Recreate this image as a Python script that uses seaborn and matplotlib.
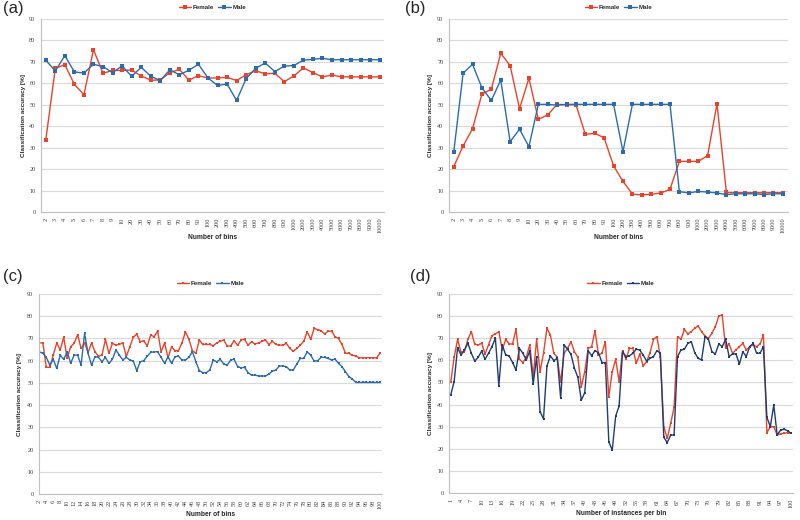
import numpy as np
import pandas as pd
import seaborn as sns
import matplotlib.pyplot as plt

# categorias do eixo x
bins_ab = ['2', '3', '4', '5', '6', '7', '8', '9', '10', '20', '30', '40', '50', '60',
           '70', '80', '90', '100', '200', '300', '400', '500', '600', '700', '800',
           '900', '1000', '2000', '3000', '4000', '5000', '6000', '7000', '8000',
           '9000', '10000']
bins_c = [str(b) for b in range(2, 101)]
inst_d = [str(b) for b in range(1, 101)]

# (a)
a_female = [33.5, 67, 68.7, 59.5, 54.7, 75.7, 64.7, 66, 66, 66.2, 63.4, 61.5, 61.5, 65,
            66.5, 61.5, 63.6, 62.5, 62.5, 62.8, 61.3, 64, 65.9, 64.4, 64.7, 60.8, 63.4,
            67.2, 65, 63, 63.9, 63, 63, 63, 63, 63]
a_male = [70.8, 65.8, 72.9, 65.3, 64.8, 68.9, 67.8, 65, 68.1, 63.3, 67.5, 63.3, 61.3,
          66.3, 64, 66.1, 68.9, 62.5, 59, 59.7, 52, 62.2, 67, 69.5, 65.5, 68, 68.3,
          70.8, 71.2, 71.7, 71, 71, 71, 71, 71, 71]

# (b)
b_female = [21.1, 30.8, 38.8, 55, 57.2, 74, 68.3, 48.2, 62.4, 43.2, 45.3, 50.2, 50, 50,
            36.2, 36.7, 34.6, 21.5, 14.3, 8.4, 7.9, 8.3, 8.8, 10.6, 23.6, 23.6, 23.6,
            26.3, 50.5, 9.1, 9, 9, 9, 9, 9, 9]
b_male = [27.8, 64.7, 68.9, 57.9, 52, 61.6, 32.8, 38.6, 30.5, 50.2, 50.2, 49.8, 50.2,
          50.2, 50.2, 50.2, 50.2, 50.2, 28.1, 50.2, 50.2, 50.2, 50.2, 50.2, 9.5, 8.9,
          9.6, 9.3, 8.9, 8.1, 8.5, 8.5, 8.5, 8.1, 8.5, 8.5]

# (c)
c_female = [68, 68, 57, 57, 62.5, 68, 64.8, 70.5, 61, 66.3,
            67.8, 71.7, 65.5, 68, 63.6, 68, 64, 62, 62.5, 69.6,
            63.3, 67.8, 67, 67.3, 68, 61.8, 66.3, 70.5, 72, 68.5,
            69, 66.6, 71.5, 70.8, 73.3, 64, 68, 61.3, 66.3, 64.5,
            64.5, 68, 73, 69.6, 64.5, 63.3, 69.3, 67.3, 67.3,
            67.3, 66.7, 68, 68.7, 69.3, 66.6, 66.6, 69, 66.9, 69.3,
            69.6, 67, 68.5, 67.5, 68, 68.7, 69.3, 67.2, 68.7, 67.3,
            67, 67, 67.8, 65.5, 64.3, 65.5, 67, 68.7, 73, 69.6,
            74.5, 74, 73.5, 72, 73.3, 73.3, 70.8, 70, 67.3, 63.3,
            63.3, 62.5, 62, 61.3, 61.3, 61.3, 61.3, 61.3, 61.3, 63.6]
c_male = [64, 63.3, 61.5, 58, 60.6, 56.5, 62.5, 60.6, 64, 58.8,
          62.5, 62.5, 58, 72.3, 63.3, 58, 61.8, 61.5, 59.5, 61.5,
          58.8, 60.6, 64.8, 62.5, 60.3, 61.5, 60.3, 59.8, 55.5, 59.5,
          60, 62, 63.7, 64, 64, 61.5, 58.8, 61.8, 58.8, 61.8,
          62, 60.3, 60.3, 61.5, 64, 59.5, 55.5, 54.6, 54.6,
          55.8, 60.3, 59.5, 60.6, 58.5, 58, 60.3, 60.6, 57.3, 56.8,
          57, 54.6, 53.5, 53.5, 53.1, 53.1, 53.1, 54, 55.3, 55.8,
          57.6, 57.6, 57.3, 55.8, 55.8, 58.5, 61, 61, 64, 62.5,
          59.8, 60, 61.5, 61.5, 61, 60.3, 60.7, 58.8, 57.3, 55,
          52.8, 51.7, 50.2, 50.2, 50.2, 50.2, 50.2, 50.2, 50.2, 50.2]

# (d)
d_female = [50, 61.4, 69.5, 63.6, 63.9, 69.5, 73, 67.2, 67, 67.7,
            62.9, 67, 71.2, 71.9, 73, 64.7, 69.5, 67.4, 67.4, 74,
            60.5, 59, 61.4, 67, 52.6, 69.5, 54.9, 63.2, 74.5, 71.5,
            63.2, 61.4, 50, 63.2, 65.4, 68.4, 63.9, 61.4, 48, 54.9,
            65.4, 66.2, 73.4, 62.4, 63.2, 68.4, 43.6, 54.9, 60.5, 50.4,
            64.4, 60.5, 65.4, 65.4, 58.6, 62.9, 57.4, 59.4, 63.5, 69.5,
            70.7, 61.4, 30, 24.7, 31.5, 38.7, 70.7, 69.5, 74, 71.9,
            73, 74.5, 75.5, 73, 71, 70, 72.2, 75.2, 80, 80.5,
            65.4, 67.4, 63.2, 64.7, 66.2, 67.7, 64.7, 66.2, 67, 66.2,
            67.4, 71.5, 27.3, 30, 30, 26.2, 26.8, 27, 27.3, 27]
d_male = [44.3, 50.4, 65.7, 62.4, 64.7, 67.7, 63.2, 59.7, 61.4, 64.2,
          60.5, 63.2, 66.2, 70, 48.5, 67, 62.4, 62, 59, 55.6,
          65.4, 63.2, 60.2, 64.2, 49.3, 61.4, 36.8, 33.5, 57.4, 62,
          59.9, 60.9, 42.8, 67, 65, 62.7, 56.4, 52.3, 42, 45.4,
          64.4, 62.1, 64.4, 63.5, 59, 59, 23.2, 19.4, 34.8, 39.3,
          63.9, 61.7, 62, 63.2, 65, 64.7, 62.4, 59.7, 60.9, 61.7,
          64.4, 63.2, 25.2, 22.8, 26.2, 26.2, 61.7, 64.7, 65, 67.7,
          68.4, 63.5, 60.9, 60.2, 70.7, 69.5, 63.9, 62.9, 67.4, 66.2,
          69.5, 61.7, 62.9, 62.9, 58.3, 63.9, 61.7, 66.2, 67.7, 63.2,
          63.2, 66.2, 34.2, 30, 39.8, 26.2, 28.5, 28.8, 28.2, 27]

RED = '#e8432b'
BLUE = '#2c6cad'
NAVY = '#1f3d72'
GRID = '#d9d9d9'
AXIS = '#bfbfbf'

sns.set_style('white')
plt.rcParams['font.family'] = ['Liberation Sans', 'DejaVu Sans']

fig = plt.figure(figsize=(8, 5.2), dpi=100)


def painel(rect, labels, female, male, xlabel, azul, passo, xlim, ylab_x, xlab_y, leg_y, msize):
    ax = fig.add_axes(rect)
    n = len(labels)
    pos = np.arange(n)
    df = pd.DataFrame({
        'pos': np.concatenate([pos, pos]),
        'acc': female + male,
        'sexo': ['Female'] * n + ['Male'] * n,
    })
    sns.lineplot(data=df, x='pos', y='acc', hue='sexo', hue_order=['Female', 'Male'],
                 palette={'Female': RED, 'Male': azul}, marker='s', markersize=msize,
                 markeredgewidth=0, linewidth=1.0, legend=False, ax=ax)
    ax.set_xlim(*xlim)
    ax.set_ylim(0, 90)
    ax.set_yticks(np.arange(0, 91, 10))
    ax.set_xticks(pos[::passo])
    ax.set_xticklabels(labels[::passo], rotation=90)
    for t in ax.get_xticklabels() + ax.get_yticklabels():
        t.set_fontfamily('Liberation Serif')
        t.set_fontsize(4.4)
        t.set_color('#404040')
    ax.tick_params(axis='both', length=2, width=0.6, color=AXIS, pad=2)
    ax.yaxis.grid(True, color=GRID, linewidth=0.8)
    ax.xaxis.grid(False)
    for s in ['top', 'right']:
        ax.spines[s].set_visible(False)
    for s in ['left', 'bottom']:
        ax.spines[s].set_color(AXIS)
        ax.spines[s].set_linewidth(0.8)
    ax.set_ylabel('Classification accuracy [%]', fontsize=4.6, fontweight='bold')
    ax.set_xlabel(xlabel, fontsize=4.8, fontweight='bold')
    ax.yaxis.set_label_coords(ylab_x, 0.5)
    ax.xaxis.set_label_coords(0.5, xlab_y)
    ax.legend(handles=ax.get_lines()[:2], labels=['Female', 'Male'], loc='center',
              bbox_to_anchor=(0.5, leg_y), ncol=2, frameon=False,
              prop={'size': 4.5, 'weight': 'bold'}, handlelength=2.0,
              handletextpad=0.3, columnspacing=0.6, borderpad=0)
    return ax


W, H = 800, 520


def caixa(x0, x1, ytop, ybot):
    return [x0 / W, 1 - ybot / H, (x1 - x0) / W, (ybot - ytop) / H]


painel(caixa(41, 384, 19, 212), bins_ab, a_female, a_male, 'Number of bins', BLUE, 1,
       (-0.5, 35.45), -0.044, -0.115, 1.062, 2.3)
painel(caixa(449, 788, 19, 212), bins_ab, b_female, b_male, 'Number of bins', BLUE, 1,
       (-0.5, 35.55), -0.047, -0.115, 1.062, 2.3)
painel(caixa(39, 382, 294, 494), bins_c, c_female, c_male, 'Number of bins', BLUE, 2,
       (-0.1, 98.5), -0.05, -0.085, 1.055, 1.8)
painel(caixa(449, 793, 294, 493), inst_d, d_female, d_male, 'Number of instances per bin',
       NAVY, 3, (-0.5, 99.6), -0.047, -0.085, 1.055, 1.8)

for txt, x, y in [('(a)', 3, 9), ('(b)', 405, 9), ('(c)', 3, 277), ('(d)', 410, 277)]:
    fig.text(x / W, 1 - y / H, txt, fontsize=12, ha='left', va='center')

fig.savefig('out.png', dpi=100)
